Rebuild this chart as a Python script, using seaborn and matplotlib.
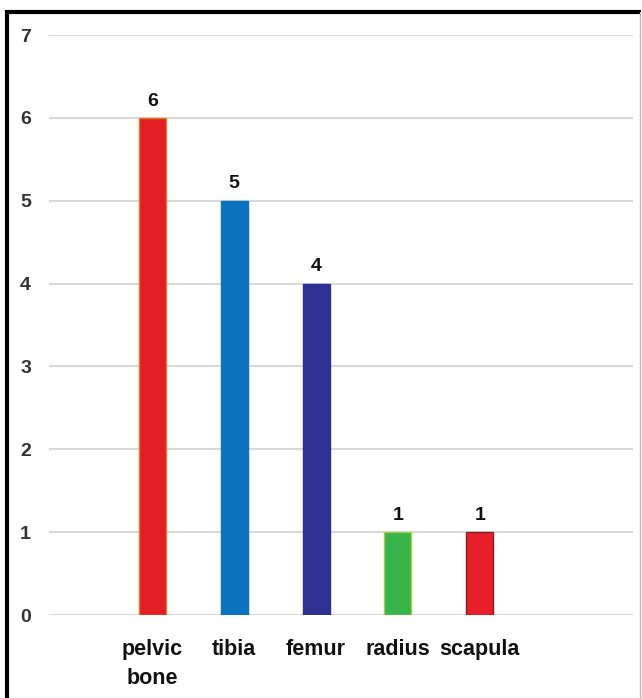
import matplotlib
matplotlib.use("Agg")
import matplotlib.pyplot as plt
from matplotlib.lines import Line2D
import seaborn as sns
import pandas as pd

categories = ["pelvic\nbone", "tibia", "femur", "radius", "scapula"]
counts = [6, 5, 4, 1, 1]
bar_colors = ["#e31f26", "#0b72c0", "#2e3192", "#38b54a", "#e8202a"]
edge_colors = ["#e07a20", "#0b72c0", "#2e3192", "#9ccf4a", "#8b1a1a"]
y_ticks = [0, 1, 2, 3, 4, 5, 6, 7]

sns.set_theme(style="white")
plt.rcParams["font.family"] = ["Liberation Sans", "DejaVu Sans"]

df = pd.DataFrame({"bone": categories, "count": counts})

fig = plt.figure(figsize=(6.42, 6.98), dpi=100)
ax = fig.add_axes([49 / 642, 1 - 615 / 698, (633 - 49) / 642, (615 - 35) / 698])

sns.barplot(data=df, x="bone", y="count", hue="bone", palette=bar_colors,
            dodge=False, legend=False, width=0.33, ax=ax, saturation=1)

for patch, ec in zip(ax.patches, edge_colors):
    patch.set_edgecolor(ec)
    patch.set_linewidth(1.0)

for cont in ax.containers:
    ax.bar_label(cont, fmt="%d", padding=6, fontsize=14, fontweight="bold", color="#111111")

ax.set_xlim(-1.26, 5.87)
ax.set_ylim(0, 7)
ax.set_yticks(y_ticks)
ax.set_yticklabels([str(t) for t in y_ticks], fontsize=14, fontweight="bold", color="#333333")
ax.tick_params(axis="y", length=0, pad=13)
ax.tick_params(axis="x", length=0, pad=17)
for lab in ax.get_xticklabels():
    lab.set_fontsize(15.5)
    lab.set_fontweight("bold")
    lab.set_color("#111111")
    lab.set_linespacing(1.5)
ax.set_xlabel("")
ax.set_ylabel("")
ax.yaxis.grid(True, color="#d9d9d9", linewidth=1.5)
ax.set_axisbelow(True)
for s in ax.spines.values():
    s.set_visible(False)

# figure frame
fig.add_artist(Line2D([6.5 / 642, 641 / 642], [1 - 11.5 / 698, 1 - 11.5 / 698],
                      transform=fig.transFigure, color="black", linewidth=3,
                      solid_capstyle="butt"))
fig.add_artist(Line2D([6.5 / 642, 6.5 / 642], [0, 1 - 10 / 698],
                      transform=fig.transFigure, color="black", linewidth=3,
                      solid_capstyle="butt"))
fig.add_artist(Line2D([640 / 642, 640 / 642], [0, 1 - 12 / 698],
                      transform=fig.transFigure, color="#bbbbbb", linewidth=1))

fig.savefig("out.png", dpi=100)
